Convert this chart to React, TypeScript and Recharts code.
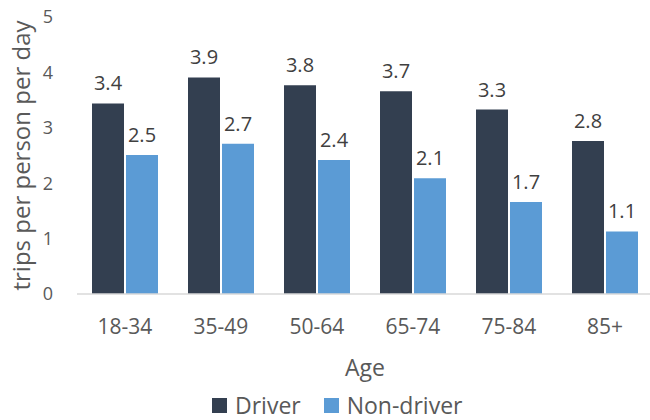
import { BarChart, Bar, XAxis, YAxis, Legend, LabelList } from 'recharts';

const ageGroups = ['18-34', '35-49', '50-64', '65-74', '75-84', '85+'];
const driverTrips = [3.44, 3.91, 3.77, 3.66, 3.33, 2.76];
const nonDriverTrips = [2.51, 2.71, 2.42, 2.09, 1.66, 1.13];
const yTicks = [0, 1, 2, 3, 4, 5];

const DRIVER = '#333F50';
const NON_DRIVER = '#5B9BD5';
const FONT = '"Open Sans", sans-serif';

const data = ageGroups.map((age, i) => ({
  age,
  driver: driverTrips[i],
  nonDriver: nonDriverTrips[i],
}));

const fmt = (v: number) => v.toFixed(1);

function LegendRow({ payload }: { payload?: any[] }) {
  return (
    <div
      style={{
        display: 'flex',
        alignItems: 'center',
        height: 30,
        lineHeight: '30px',
        paddingLeft: 212,
        fontFamily: FONT,
        fontSize: 23,
        color: '#595959',
      }}
    >
      {(payload ?? []).map(item => (
        <div key={item.value} style={{ display: 'flex', alignItems: 'center', marginRight: 23 }}>
          <span style={{ width: 15, height: 15, background: item.color, marginRight: 8 }} />
          <span>{item.value}</span>
        </div>
      ))}
    </div>
  );
}

export default function App() {
  return (
    <div style={{ position: 'absolute', left: 0, top: 0, width: 650, height: 420, overflow: 'hidden', background: '#fff' }}>
      <BarChart
        width={653}
        height={420}
        data={data}
        margin={{ top: 17, right: 0, bottom: 0, left: 0 }}
        barGap={2}
        barSize={32}
      >
        <XAxis
          dataKey="age"
          height={96}
          tickLine={false}
          axisLine={{ stroke: '#D9D9D9', strokeWidth: 1.5 }}
          tickMargin={19}
          tick={{ fill: '#595959', fontSize: 21, fontFamily: FONT }}
          label={{ value: 'Age', position: 'insideBottom', offset: 14, fill: '#595959', fontSize: 23, fontFamily: FONT }}
        />
        <YAxis
          width={77}
          domain={[0, 5]}
          ticks={yTicks}
          tickLine={false}
          axisLine={false}
          tickMargin={18}
          tick={{ fill: '#595959', fontSize: 18, fontFamily: FONT }}
          label={{
            value: 'trips per person per day',
            angle: -90,
            position: 'center',
            dx: -17,
            fill: '#595959',
            fontSize: 24,
            fontFamily: FONT,
          }}
        />
        <Legend verticalAlign="bottom" content={<LegendRow />} />
        <Bar dataKey="driver" name="Driver" fill={DRIVER} isAnimationActive={false}>
          <LabelList dataKey="driver" position="top" offset={13} formatter={fmt} fill="#404040" fontSize={20} fontFamily={FONT} />
        </Bar>
        <Bar dataKey="nonDriver" name="Non-driver" fill={NON_DRIVER} isAnimationActive={false}>
          <LabelList dataKey="nonDriver" position="top" offset={13} formatter={fmt} fill="#404040" fontSize={20} fontFamily={FONT} />
        </Bar>
      </BarChart>
    </div>
  );
}
